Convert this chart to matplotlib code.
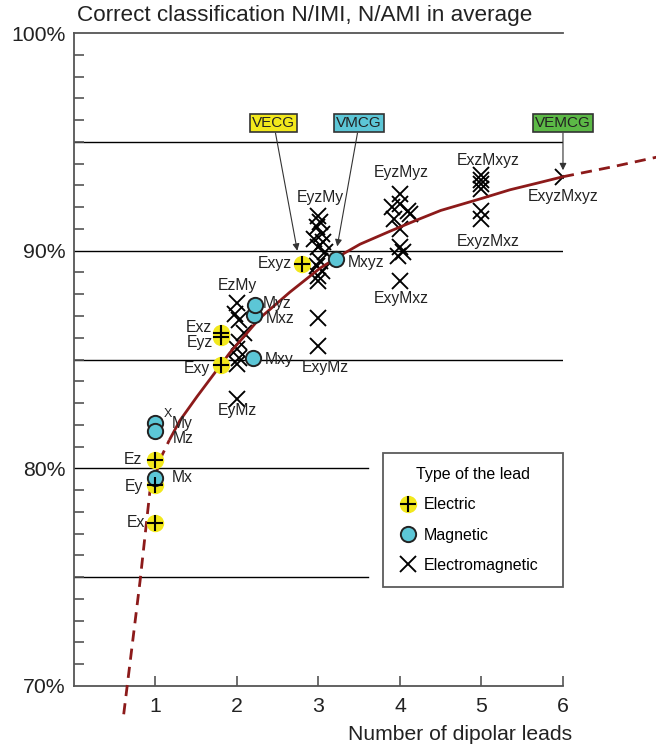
import matplotlib
matplotlib.use("Agg")
import matplotlib.pyplot as plt
from matplotlib.lines import Line2D

plt.rcParams["font.family"] = ["Liberation Sans", "DejaVu Sans"]

# ---- data ----
# fitted trend curve (number of leads, % correct)
curve_x = [0.61, 0.81, 0.93, 1.08, 1.17, 1.30, 1.51, 1.71, 1.91, 2.28, 2.65, 3.02,
           3.30, 3.51, 3.88, 4.20, 4.50, 5.00, 5.35, 5.70, 6.00, 6.60, 7.15]
curve_y = [68.7, 74.8, 78.9, 80.6, 81.3, 82.2, 83.3, 84.3, 85.3, 86.9, 88.1, 89.2,
           89.85, 90.3, 90.9, 91.4, 91.85, 92.4, 92.8, 93.12, 93.4, 93.85, 94.3]
solid_from, solid_to = 4, 20   # index range drawn solid, rest dashed

# electric leads
elec_names = ["Ex", "Ey", "Ez", "Exy", "Exz", "Eyz", "Exyz"]
elec_x = [1.0, 1.0, 1.0, 1.80, 1.80, 1.80, 2.80]
elec_y = [77.5, 79.25, 80.37, 84.75, 86.22, 86.05, 89.39]

# magnetic leads
mag_names = ["Mx", "My", "Mz", "Mxy", "Mxz", "Myz", "Mxyz"]
mag_x = [1.0, 1.0, 1.0, 2.20, 2.21, 2.22, 3.22]
mag_y = [79.55, 82.09, 81.70, 85.07, 87.05, 87.50, 89.60]

# electromagnetic leads
em_x = [2.00, 1.98, 2.03, 2.08, 2.02, 2.00, 2.03, 2.00, 2.00,
        3.00, 3.02, 2.98, 3.04, 2.95, 3.06, 3.00, 3.08, 3.02, 2.98, 3.04, 3.00, 3.00,
        3.00, 3.00,
        4.00, 4.00, 3.90, 4.10, 4.12, 3.93, 4.00, 4.00, 4.04, 3.97, 4.00,
        5.00, 5.00, 5.00, 5.00, 5.00, 5.00,
        6.00]
em_y = [87.60, 87.10, 86.80, 86.20, 85.80, 85.50, 85.07, 84.80, 83.20,
        91.60, 91.30, 91.07, 90.78, 90.55, 90.38, 90.15, 89.92, 89.54, 89.31, 89.08, 88.85,
        88.62, 86.93, 85.62,
        92.60, 92.15, 92.00, 91.84, 91.70, 91.46, 91.00, 90.15, 89.92, 89.77, 88.62,
        93.46, 93.23, 93.07, 92.84, 91.84, 91.46,
        93.41]

# point labels: text, x, y, horizontal alignment
labels = [
    ("Ex", 0.87, 77.5, "right"), ("Ey", 0.85, 79.15, "right"), ("Ez", 0.84, 80.4, "right"),
    ("Mx", 1.20, 79.6, "left"), ("My", 1.20, 82.08, "left"), ("Mz", 1.21, 81.38, "left"),
    ("Exz", 1.69, 86.45, "right"), ("Eyz", 1.70, 85.76, "right"), ("Exy", 1.67, 84.6, "right"),
    ("Myz", 2.32, 87.59, "left"), ("Mxz", 2.35, 86.9, "left"), ("Mxy", 2.34, 85.02, "left"),
    ("EzMy", 2.0, 88.4, "center"), ("EyMz", 2.0, 82.68, "center"),
    ("Exyz", 2.67, 89.4, "right"), ("Mxyz", 3.36, 89.45, "left"),
    ("EyzMy", 3.02, 92.46, "center"), ("ExyMz", 3.08, 84.65, "center"),
    ("EyzMyz", 4.02, 93.6, "center"), ("ExyMxz", 4.02, 87.8, "center"),
    ("ExzMxyz", 5.08, 94.16, "center"), ("ExyzMxz", 5.08, 90.44, "center"),
    ("ExyzMxyz", 6.0, 92.47, "center"),
]

# boxed annotations: text, box centre, arrow tip, colour
boxes = [
    ("VECG", (2.45, 95.86), (2.74, 90.0), "#f2e81c"),
    ("VMCG", (3.50, 95.86), (3.23, 90.2), "#5cc6d6"),
    ("VEMCG", (6.00, 95.86), (6.00, 93.7), "#5cb946"),
]

ref_long = [85, 90, 95]
ref_short = [75, 80]

YELLOW = "#f2e81c"
CYAN = "#5cc6d6"
RED = "#8c1a1a"
SPINE = "#555555"

fig = plt.figure(figsize=(6.56, 7.47), dpi=100)
ax = fig.add_axes([0.1128, 0.0817, 0.7454, 0.874])
ax.set_xlim(0, 6)
ax.set_ylim(70, 100)

for y in ref_long:
    ax.plot([0, 6], [y, y], color="black", lw=1.0, zorder=1)
for y in ref_short:
    ax.plot([0, 3.61], [y, y], color="black", lw=1.0, zorder=1)

# curve
ax.plot(curve_x[:solid_from + 1], curve_y[:solid_from + 1], color=RED, lw=2.0,
        ls=(0, (4, 2.6)), clip_on=False, zorder=3)
ax.plot(curve_x[solid_from:solid_to + 1], curve_y[solid_from:solid_to + 1], color=RED,
        lw=2.0, clip_on=False, zorder=3, solid_capstyle="butt", solid_joinstyle="round")
ax.plot(curve_x[solid_to:], curve_y[solid_to:], color=RED, lw=2.0,
        ls=(0, (4, 2.6)), clip_on=False, zorder=3)

ms = 11
ax.plot(em_x, em_y, ls="none", marker="x", ms=ms, mew=1.35, color="black", zorder=2)
ax.plot(elec_x, elec_y, ls="none", marker="o", ms=ms + 0.5, mfc=YELLOW, mec=YELLOW,
        zorder=4)
ax.plot(elec_x, elec_y, ls="none", marker="+", ms=ms + 1, mew=1.5, color="black", zorder=5)
ax.plot(mag_x, mag_y, ls="none", marker="o", ms=ms, mfc=CYAN, mec="#222222", mew=1.4,
        zorder=4)

for txt, x, y, ha in labels:
    ax.text(x, y, txt, ha=ha, va="center", fontsize=11.3, color="#222222", zorder=6)
ax.text(1.15, 82.5, "X", ha="center", va="center", fontsize=9, color="#222222")

for txt, xy_text, xy_tip, col in boxes:
    ax.annotate(txt, xy=xy_tip, xytext=xy_text, ha="center", va="center",
                fontsize=11, color="#222222", annotation_clip=False,
                bbox=dict(boxstyle="square,pad=0.15", fc=col, ec="#333333", lw=1.2),
                arrowprops=dict(arrowstyle="-|>", color="#333333", lw=0.8,
                                mutation_scale=10, shrinkA=0, shrinkB=0))

# axes styling
for side in ["left", "bottom", "top"]:
    ax.spines[side].set_color(SPINE)
    ax.spines[side].set_linewidth(1.3)
ax.spines["right"].set_visible(False)

ax.set_yticks([70, 80, 90, 100])
ax.set_yticklabels(["70%", "80%", "90%", "100%"])
ax.set_yticks(list(range(71, 100)), minor=True)
ax.tick_params(axis="y", which="major", length=0, pad=6, labelsize=15.3, labelcolor="#222222")
ax.tick_params(axis="y", which="minor", direction="in", length=7, width=1.2, color=SPINE)
ax.set_xticks([1, 2, 3, 4, 5, 6])
ax.tick_params(axis="x", direction="in", length=7, width=1.2, color=SPINE, pad=8,
               labelsize=15.3, labelcolor="#222222")

handles = [
    (Line2D([], [], ls="none", marker="o", ms=ms + 0.5, mfc=YELLOW, mec=YELLOW),
     Line2D([], [], ls="none", marker="+", ms=ms + 1, mew=1.5, color="black")),
    Line2D([], [], ls="none", marker="o", ms=ms, mfc=CYAN, mec="#222222", mew=1.4),
    Line2D([], [], ls="none", marker="x", ms=ms, mew=1.35, color="black"),
]
leg = ax.legend(handles, ["Electric", "Magnetic", "Electromagnetic"],
                title="Type of the lead", loc="upper left",
                bbox_to_anchor=(0.632, 0.1485, 0.368, 0.2085), mode="expand",
                fontsize=11.5, title_fontsize=11.5, frameon=True, fancybox=False,
                edgecolor="#333333", labelspacing=0.95, handletextpad=0.35,
                borderpad=0.9, handlelength=1.3, borderaxespad=0)
leg.get_frame().set_linewidth(1.3)

fig.text(77 / 656, 1 - 15 / 747, "Correct classification N/IMI, N/AMI in average",
         ha="left", va="center", fontsize=16.2, color="#222222")
fig.text(572 / 656, 1 - 735 / 747, "Number of dipolar leads", ha="right", va="center",
         fontsize=15.2, color="#222222")

fig.savefig("out.png", dpi=100)
